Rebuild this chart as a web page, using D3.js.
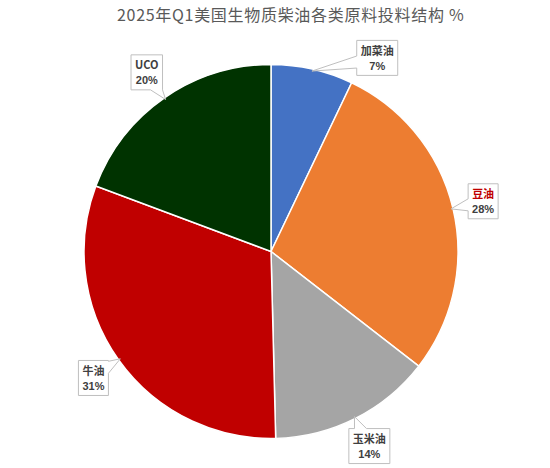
<!DOCTYPE html>
<html>
<head>
<meta charset="utf-8">
<script src="https://cdn.jsdelivr.net/npm/d3@7"></script>
<style>
  body { margin: 0; background: #fff; }
  .title { font-family: "Noto Sans CJK SC", "DejaVu Sans", sans-serif; font-size: 16px; letter-spacing: 0.7px; fill: #595959; }
  .lab-name { font-family: "Noto Sans CJK SC", sans-serif; font-size: 11px; font-weight: bold; fill: #404040; }
  .lab-pct { font-family: "Liberation Sans Narrow", "Liberation Sans", sans-serif; font-size: 11px; font-weight: bold; fill: #404040; }
</style>
</head>
<body>
<div id="container"></div>
<script>
// constants and globals
const width = 550,
  height = 468

// data (clockwise from 12 o'clock)
const categories = ["加菜油", "豆油", "玉米油", "牛油", "UCO"]
const shares = [7.1, 28.4, 14.1, 31.1, 19.3]
const pctLabels = ["7%", "28%", "14%", "31%", "20%"]
const colors = ["#4472C4", "#ED7D31", "#A5A5A5", "#C00000", "#003300"]

const titleText = "2025年Q1美国生物质柴油各类原料投料结构  %"

// pie geometry
const cx = 271, cy = 251.5, radius = 187
const labelRadius = 218

const svg = d3.select("#container")
  .append("svg")
  .attr("width", width)
  .attr("height", height)

svg.append("text")
  .attr("class", "title")
  .attr("x", 117)
  .attr("y", 21)
  .text(titleText)

const data = categories.map((c, i) => ({ name: c, value: shares[i], pct: pctLabels[i], color: colors[i] }))

const pie = d3.pie()
  .sort(null)
  .value(d => d.value)

const arcs = pie(data)

const arcGen = d3.arc()
  .innerRadius(0)
  .outerRadius(radius)

const g = svg.append("g")
  .attr("transform", `translate(${cx}, ${cy})`)

g.selectAll(".slice")
  .data(arcs)
  .join("path")
  .attr("class", "slice")
  .attr("fill", d => d.data.color)
  .attr("stroke", "#fff")
  .attr("stroke-width", 1.5)
  .attr("d", arcGen)

// callout boxes - the first one was moved aside by hand in the original
const nudge = { "加菜油": [58, 19] }

function polar(a, r) {
  return [Math.sin(a) * r, -Math.cos(a) * r]
}

function calloutPath(bx, by, w, h, tx, ty) {
  const x0 = bx - w / 2, x1 = bx + w / 2, y0 = by - h / 2, y1 = by + h / 2
  const dx = tx - bx, dy = ty - by
  const bw = 12
  const clampX = v => Math.max(x0 + bw / 2, Math.min(x1 - bw / 2, v))
  const clampY = v => Math.max(y0 + bw / 2, Math.min(y1 - bw / 2, v))
  const pts = []
  let side
  if (Math.abs(dx) * h > Math.abs(dy) * w) side = dx > 0 ? "right" : "left"
  else side = dy > 0 ? "bottom" : "top"

  pts.push([x0, y0])
  if (side === "top") {
    const ix = clampX(bx + dx * (-h / 2) / dy)
    pts.push([ix - bw / 2, y0], [tx, ty], [ix + bw / 2, y0])
  }
  pts.push([x1, y0])
  if (side === "right") {
    const iy = clampY(by + dy * (w / 2) / dx)
    pts.push([x1, iy - bw / 2], [tx, ty], [x1, iy + bw / 2])
  }
  pts.push([x1, y1])
  if (side === "bottom") {
    const ix = clampX(bx + dx * (h / 2) / dy)
    pts.push([ix + bw / 2, y1], [tx, ty], [ix - bw / 2, y1])
  }
  pts.push([x0, y1])
  if (side === "left") {
    const iy = clampY(by + dy * (-w / 2) / dx)
    pts.push([x0, iy + bw / 2], [tx, ty], [x0, iy - bw / 2])
  }
  return "M" + pts.map(p => p.join(",")).join("L") + "Z"
}

const labels = g.selectAll(".callout")
  .data(arcs)
  .join("g")
  .attr("class", "callout")

labels.each(function(d) {
  const mid = (d.startAngle + d.endAngle) / 2
  const nd = nudge[d.data.name] || [0, 0]
  const [lx, ly] = polar(mid, labelRadius)
  const bx = lx + nd[0], by = ly + nd[1]
  const [tx, ty] = polar(mid, radius - 2)
  const sel = d3.select(this)
  const nameText = sel.append("text")
    .attr("class", "lab-name")
    .attr("x", bx)
    .attr("y", by - 3)
    .attr("text-anchor", "middle")
    .style("fill", d.data.name === "豆油" ? "#C00000" : null)
    .text(d.data.name)
  const tw = nameText.node().getComputedTextLength()
  const w = Math.max(26, tw + 8)
  const h = 35
  sel.insert("path", "text")
    .attr("d", calloutPath(bx, by, w, h, tx, ty))
    .attr("fill", "#fff")
    .attr("stroke", "#BFBFBF")
    .attr("stroke-width", 1)
  sel.append("text")
    .attr("class", "lab-pct")
    .attr("x", bx)
    .attr("y", by + 12)
    .attr("text-anchor", "middle")
    .text(d.data.pct)
})
</script>
</body>
</html>
